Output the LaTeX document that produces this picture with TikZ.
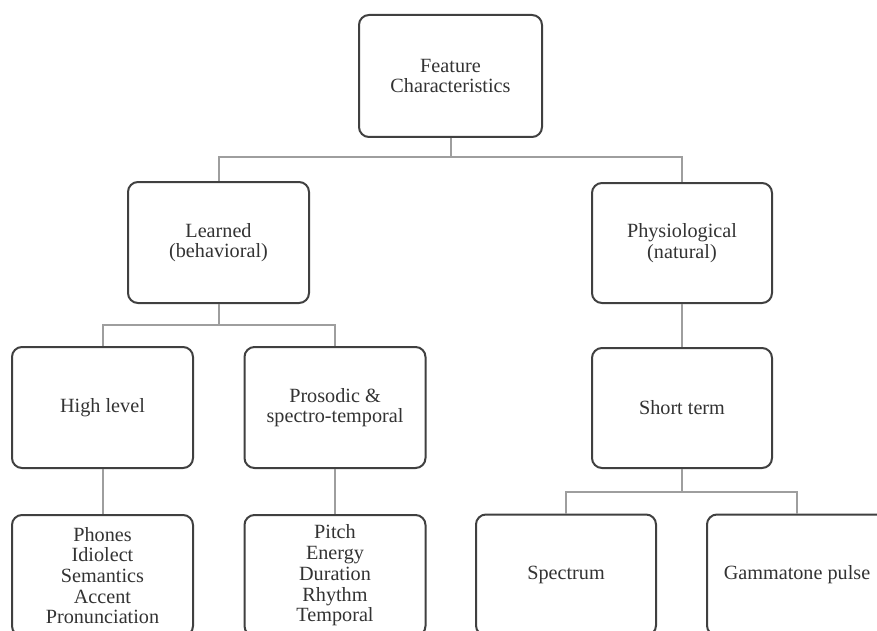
\documentclass[tikz,border=0pt]{standalone}
\usepackage{fontspec}
\setmainfont{Liberation Serif}
\begin{document}
\begin{tikzpicture}[x=1pt,y=-1pt,
  box/.style={draw=black!75, line width=2pt, rounded corners=10pt,
    minimum width=181pt, minimum height=121pt, inner sep=0pt, align=center,
    text=black!80, font=\fontsize{20.2}{20.7}\selectfont},
  conn/.style={draw=black!38, line width=2pt}]
\useasboundingbox (0,0) rectangle (877,631);
\clip (0,0) rectangle (877,631);
\fill[white] (0,0) rectangle (877,631);
\node[box, minimum width=183pt, minimum height=122pt] (top) at (450.5,76) {Feature\\Characteristics};
\node[box] (learned) at (218.5,242.5) {Learned\\(behavioral)};
\node[box, minimum width=180pt, minimum height=120pt] (phys) at (682,243) {Physiological\\(natural)};
\node[box] (high) at (102.5,407.5) {High level};
\node[box] (pros) at (335,407.5) {Prosodic \&\\spectro-temporal};
\node[box, minimum width=180pt, minimum height=120pt] (short) at (682,408) {Short term};
\node[box] (phones) at (102.5,575.5) {Phones\\Idiolect\\Semantics\\Accent\\Pronunciation};
\node[box] (pitch) at (335,575.5) {Pitch\\Energy\\Duration\\Rhythm\\Temporal};
\node[box, minimum width=180pt] (spec) at (566,575) {Spectrum};
\node[box, minimum width=180pt] (gamma) at (797,575) {Gammatone pulse};
\coordinate (j1) at (450.5,157);
\coordinate (j2) at (218.5,325);
\coordinate (j3) at (682,492);
\draw[conn] (top.south) -- (j1);
\draw[conn] (j1) -| (learned.north);
\draw[conn] (j1) -| (phys.north);
\draw[conn] (learned.south) -- (j2);
\draw[conn] (j2) -| (high.north);
\draw[conn] (j2) -| (pros.north);
\draw[conn] (phys.south) -- (short.north);
\draw[conn] (short.south) -- (j3);
\draw[conn] (j3) -| (spec.north);
\draw[conn] (j3) -| (gamma.north);
\draw[conn] (high.south) -- (phones.north);
\draw[conn] (pros.south) -- (pitch.north);
\end{tikzpicture}
\end{document}
